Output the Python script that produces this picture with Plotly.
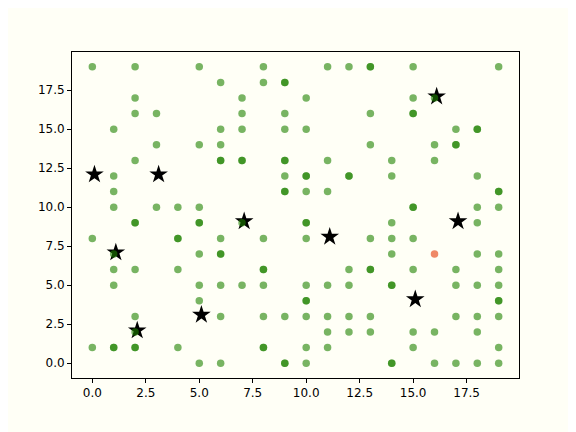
"""
Scatter of integer grid points (semi-transparent green) with star markers.
"""
import plotly.graph_objects as go

# ---------------------------------------------------------------------------
# Data
# ---------------------------------------------------------------------------

# every visible green point, column by column
dot_x = (
    [0] * 3 + [1] * 8 + [2] * 9 + [3] * 3 + [4] * 4 + [5] * 8 + [6] * 9
    + [7] * 6 + [8] * 7 + [9] * 8 + [10] * 11 + [11] * 7 + [12] * 6
    + [13] * 7 + [14] * 7 + [15] * 8 + [16] * 5 + [17] * 6 + [18] * 9
    + [19] * 10
)
dot_y = [
    19, 8, 1,                                   # x=0
    15, 12, 11, 10, 7, 6, 5, 1,                 # x=1
    19, 17, 16, 13, 9, 6, 3, 2, 1,              # x=2
    16, 14, 10,                                 # x=3
    10, 8, 6, 1,                                # x=4
    19, 14, 10, 9, 7, 5, 4, 0,                  # x=5
    18, 15, 14, 13, 8, 7, 5, 3, 0,              # x=6
    17, 16, 15, 13, 9, 5,                       # x=7
    19, 18, 8, 6, 5, 3, 1,                      # x=8
    18, 16, 15, 13, 12, 11, 3, 0,               # x=9
    17, 15, 12, 11, 9, 8, 5, 4, 3, 1, 0,        # x=10
    19, 13, 11, 5, 3, 2, 1,                     # x=11
    19, 12, 6, 5, 3, 2,                         # x=12
    19, 16, 14, 8, 6, 3, 2,                     # x=13
    13, 12, 9, 8, 7, 5, 0,                      # x=14
    19, 17, 16, 10, 8, 6, 2, 1,                 # x=15
    17, 14, 13, 2, 0,                           # x=16
    15, 14, 6, 5, 3, 0,                         # x=17
    15, 12, 10, 9, 7, 5, 3, 2, 0,               # x=18
    19, 11, 10, 7, 6, 5, 4, 3, 1, 0,            # x=19
]

# points drawn twice (they show up as darker green)
dup_x = [6, 13, 9, 7, 9, 10, 12, 9, 15, 18, 17, 19, 15, 2, 5, 4, 6, 1, 2,
         10, 8, 13, 14, 10, 8, 9, 14, 19]
dup_y = [13, 19, 18, 13, 13, 12, 12, 11, 16, 15, 14, 11, 10, 9, 9, 8, 7, 1, 1,
         9, 6, 6, 5, 4, 1, 0, 0, 4]

# the single orange point
odd_x = [16]
odd_y = [7]

# black stars
star_x = [0.1, 1.1, 2.1, 3.1, 5.1, 7.1, 11.1, 15.1, 16.1, 17.1]
star_y = [12.1, 7.1, 2.1, 12.1, 3.1, 9.1, 8.1, 4.1, 17.1, 9.1]

# ---------------------------------------------------------------------------
# Figure
# ---------------------------------------------------------------------------

fig = go.Figure()

fig.add_trace(go.Scatter(
    x=star_x, y=star_y, mode="markers",
    marker=dict(symbol="star", size=14, color="black", line=dict(width=0)),
))
fig.add_trace(go.Scatter(
    x=dot_x + dup_x, y=dot_y + dup_y, mode="markers",
    marker=dict(size=7.5, color="rgba(30,130,0,0.6)", line=dict(width=0)),
))
fig.add_trace(go.Scatter(
    x=odd_x, y=odd_y, mode="markers",
    marker=dict(size=7.5, color="rgba(232,86,42,0.7)", line=dict(width=0)),
))

axis_style = dict(
    range=[-0.95, 19.95],
    tick0=0, dtick=2.5, tickformat=".1f",
    ticks="outside", ticklen=4, tickwidth=1, tickcolor="black",
    showline=True, linecolor="black", linewidth=1, mirror=True,
    showgrid=False, zeroline=False,
    tickfont=dict(family="DejaVu Sans", size=12, color="black"),
)

# page body adds an 8px offset, so margins are shifted to compensate
fig.update_layout(
    width=576, height=432,
    margin=dict(l=64, r=65, t=44, b=62),
    paper_bgcolor="#fffff6",
    plot_bgcolor="#fffff6",
    showlegend=False,
    xaxis=axis_style,
    yaxis=axis_style,
)

fig.write_html("out.html")
